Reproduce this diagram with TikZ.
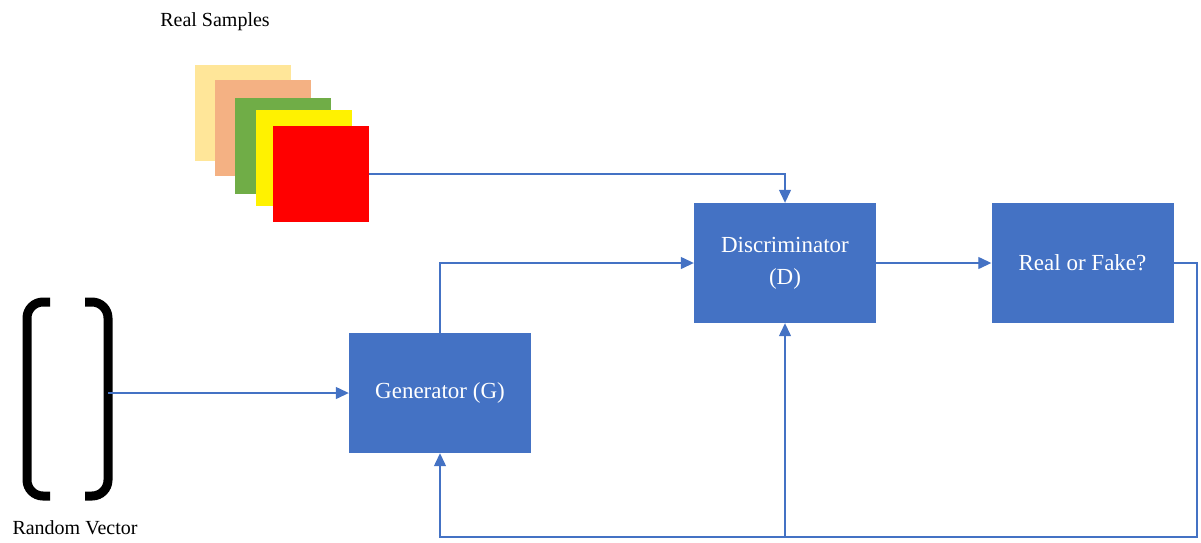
\documentclass[tikz,border=0pt]{standalone}
\usepackage{fontspec}
\setmainfont{Liberation Serif}
\usetikzlibrary{arrows.meta}
\definecolor{gblue}{HTML}{4472C4}
\definecolor{sand}{HTML}{FFE699}
\definecolor{peach}{HTML}{F4B183}
\definecolor{leaf}{HTML}{70AD47}
\tikzset{
    block/.style={fill=gblue, text=white, minimum width=182pt, minimum height=120pt, align=center, font=\fontsize{23}{32}\selectfont},
    sample/.style={minimum width=96pt, minimum height=96pt, inner sep=0pt},
    link/.style={gblue, line width=1.3pt},
    arrow/.style={link, -{Triangle[width=12pt,length=13pt]}},
    bracket/.style={line width=9pt, rounded corners=16pt},
    label/.style={font=\fontsize{20}{24}\selectfont}
}
\begin{document}
\begin{tikzpicture}[x=1pt, y=-1pt]
    \useasboundingbox (0,0) rectangle (1201,542);

    \node[label] (realtxt) at (215,22) {Real Samples};
    \node[sample, fill=sand] (s1) at (243,113) {};
    \node[sample, fill=peach] (s2) at (263,128) {};
    \node[sample, fill=leaf] (s3) at (283,146) {};
    \node[sample, fill=yellow] (s4) at (304,158) {};
    \node[sample, fill=red] (s5) at (321,174) {};

    \draw[bracket] (50,302) -- (27,302) -- (27,496) -- (50,496);
    \draw[bracket] (85,302) -- (108,302) -- (108,496) -- (85,496);
    \coordinate (vec) at (108,393);
    \node[label] (randtxt) at (75,528) {Random Vector};

    \node[block] (gen) at (440,393) {Generator (G)};
    \node[block] (disc) at (785,263) {Discriminator\\(D)};
    \node[block] (rf) at (1082.5,263) {Real or Fake?};

    \coordinate (c1) at (1197,537);
    \coordinate (c2) at (785,537);

    \draw[arrow] (vec) -- (gen.west);
    \draw[arrow] (gen.north) |- (disc.west);
    \draw[arrow] (s5.east) -| (disc.north);
    \draw[arrow] (disc.east) -- (rf.west);
    \draw[arrow] (rf.east) -| (c1) -| (gen.south);
    \draw[arrow] (c2) -- (disc.south);

\end{tikzpicture}
\end{document}
